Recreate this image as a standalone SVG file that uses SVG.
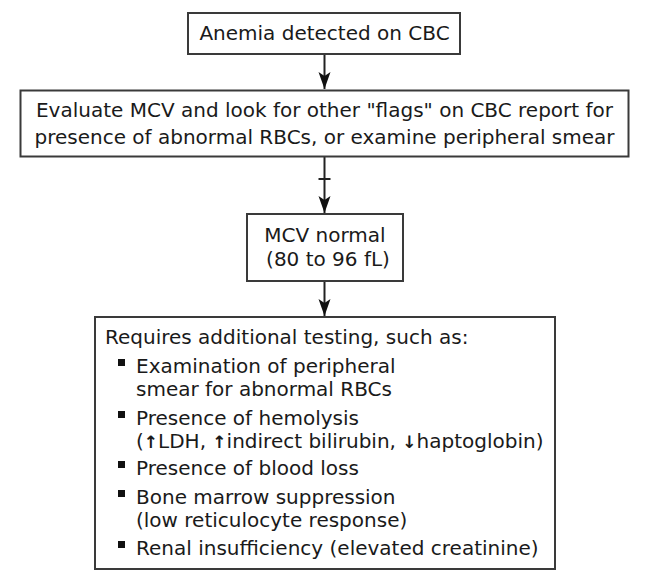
<svg xmlns="http://www.w3.org/2000/svg" width="656" height="578" viewBox="0 0 656 578">
<style>
.box{fill:#fff;stroke:#3a3a3a;stroke-width:2}
.t{font-family:"DejaVu Sans","Liberation Sans",sans-serif;font-size:20px;fill:#1a1a1a}
.c{text-anchor:middle}
.con{stroke:#222;stroke-width:2;fill:none}
.ar{font-size:17px;font-weight:bold}
</style>
<defs>
<marker id="ah" markerUnits="userSpaceOnUse" markerWidth="18" markerHeight="14" refX="17" refY="7" orient="auto" viewBox="0 0 18 14">
<path d="M0,1 L4,7 L0,13 L17,7 Z" fill="#111"/>
</marker>
</defs>
<rect width="656" height="578" fill="#fff"/>
<g id="connectors">
<line class="con" x1="324.5" y1="54" x2="324.5" y2="89" marker-end="url(#ah)"/>
<line class="con" x1="324.5" y1="157" x2="324.5" y2="213" marker-end="url(#ah)"/>
<line class="con" x1="318.5" y1="179" x2="330.5" y2="179"/>
<line class="con" x1="324.5" y1="281" x2="324.5" y2="316" marker-end="url(#ah)"/>
</g>
<g id="n1">
<rect class="box" x="188" y="13" width="272" height="41"/>
<text class="t c" x="324.5" y="40">Anemia detected on CBC</text>
</g>
<g id="n2">
<rect class="box" x="20.5" y="90.5" width="608" height="66"/>
<text class="t c" x="324.5" y="117">Evaluate MCV and look for other "flags" on CBC report for</text>
<text class="t c" x="324.5" y="144">presence of abnormal RBCs, or examine peripheral smear</text>
</g>
<g id="n3">
<rect class="box" x="247" y="214" width="156" height="67"/>
<text class="t c" x="325" y="242">MCV normal</text>
<text class="t c" x="328" y="266">(80 to 96 fL)</text>
</g>
<g id="n4">
<rect class="box" x="95" y="317" width="460" height="252"/>
<text class="t" x="105" y="344">Requires additional testing, such as:</text>
<g fill="#111">
<rect x="118" y="359" width="7" height="7"/>
<rect x="118" y="411" width="7" height="7"/>
<rect x="118" y="461" width="7" height="7"/>
<rect x="118" y="490" width="7" height="7"/>
<rect x="118" y="541" width="7" height="7"/>
</g>
<text class="t" x="136" y="373">Examination of peripheral</text>
<text class="t" x="136" y="396">smear for abnormal RBCs</text>
<text class="t" x="136" y="425">Presence of hemolysis</text>
<text class="t" x="136" y="448">(<tspan class="ar">↑</tspan>LDH, <tspan class="ar">↑</tspan>indirect bilirubin, <tspan class="ar">↓</tspan>haptoglobin)</text>
<text class="t" x="136" y="475">Presence of blood loss</text>
<text class="t" x="136" y="504">Bone marrow suppression</text>
<text class="t" x="136" y="527">(low reticulocyte response)</text>
<text class="t" x="136" y="555">Renal insufficiency (elevated creatinine)</text>
</g>
</svg>
